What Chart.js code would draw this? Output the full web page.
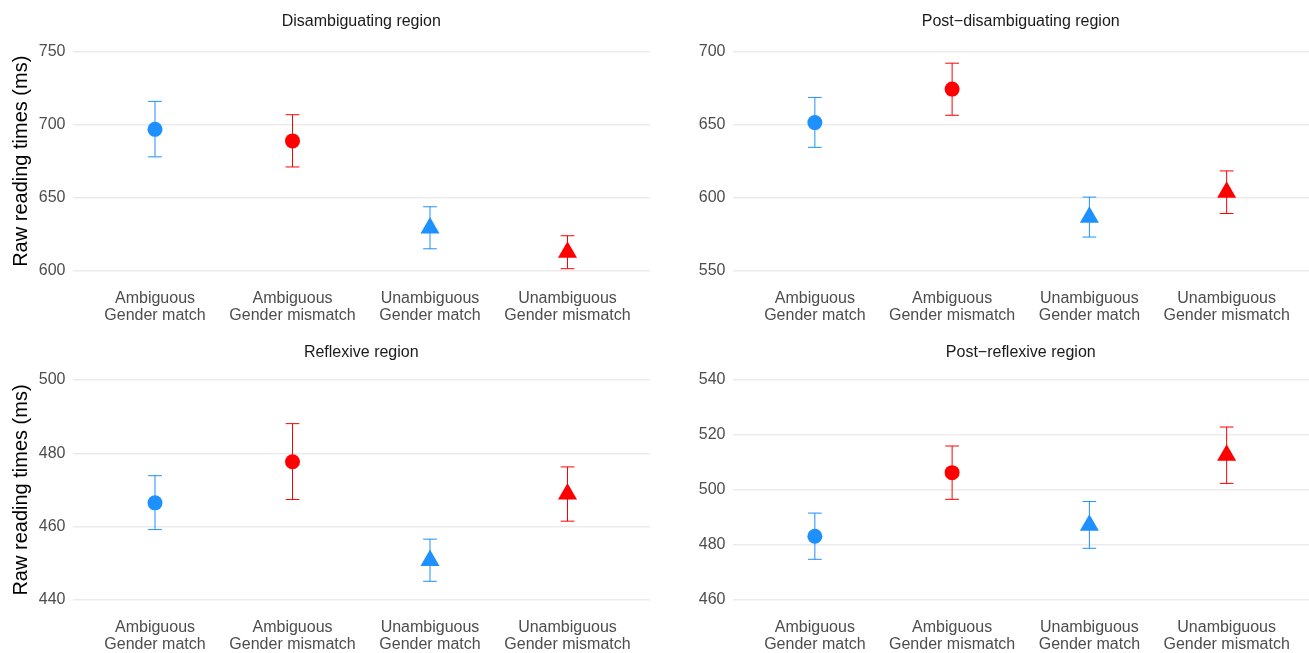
<!DOCTYPE html>
<html>
<head>
<meta charset="utf-8">
<script src="https://cdn.jsdelivr.net/npm/chart.js@4/dist/chart.umd.min.js"></script>
<style>
  html, body { margin: 0; padding: 0; background: #ffffff; }
  #wrap { position: relative; width: 1309px; height: 653px; overflow: hidden; }
  .panel { position: absolute; }
  .panel canvas { display: block; }
</style>
</head>
<body>
<div id="wrap">
  <div class="panel" style="left:0px;top:0px;"><canvas id="c0" width="655" height="327"></canvas></div>
  <div class="panel" style="left:655px;top:0px;"><canvas id="c1" width="654" height="327"></canvas></div>
  <div class="panel" style="left:0px;top:327px;"><canvas id="c2" width="655" height="326"></canvas></div>
  <div class="panel" style="left:655px;top:327px;"><canvas id="c3" width="654" height="326"></canvas></div>
</div>
<script>
// Conditions on the x axis (two-line labels)
const categories = [
  ["Ambiguous", "Gender match"],
  ["Ambiguous", "Gender mismatch"],
  ["Unambiguous", "Gender match"],
  ["Unambiguous", "Gender mismatch"]
];
const markerColors = ["#1E90FF", "#FF0000", "#1E90FF", "#FF0000"];
const markerShapes = ["circle", "circle", "triangle", "triangle"];

// Disambiguating region
const disambigMean = [696.8, 688.9, 629.4, 612.8];
const disambigLow  = [678.0, 671.1, 615.2, 601.6];
const disambigHigh = [715.9, 706.8, 643.9, 624.1];
const disambigTicks = [600, 650, 700, 750];

// Post-disambiguating region
const postDisambigMean = [651.4, 674.3, 586.7, 603.8];
const postDisambigLow  = [634.5, 656.4, 573.2, 589.3];
const postDisambigHigh = [668.6, 692.0, 600.5, 618.4];
const postDisambigTicks = [550, 600, 650, 700];

// Reflexive region
const reflexiveMean = [466.5, 477.7, 450.8, 468.9];
const reflexiveLow  = [459.2, 467.4, 445.1, 461.5];
const reflexiveHigh = [473.9, 488.1, 456.6, 476.3];
const reflexiveTicks = [440, 460, 480, 500];

// Post-reflexive region
const postReflexiveMean = [483.2, 506.3, 487.2, 512.6];
const postReflexiveLow  = [474.8, 496.6, 478.8, 502.4];
const postReflexiveHigh = [491.6, 516.0, 495.8, 522.9];
const postReflexiveTicks = [460, 480, 500, 520, 540];

const yTitle = "Raw reading times (ms)";

Chart.defaults.font.family = "'Liberation Sans', Arial, Helvetica, sans-serif";
Chart.defaults.animation = false;

// Vertical error bars with caps, drawn beneath the markers
const errorBarPlugin = {
  id: 'errorBars',
  beforeDatasetsDraw(chart, args, opts) {
    const { ctx, scales: { x, y } } = chart;
    ctx.save();
    ctx.lineWidth = 1;
    opts.low.forEach((lo, i) => {
      const hi = opts.high[i];
      const px = x.getPixelForValue(i);
      const half = Math.abs(x.getPixelForValue(i + opts.capWidth / 2) - px);
      const yLo = y.getPixelForValue(lo);
      const yHi = y.getPixelForValue(hi);
      ctx.strokeStyle = markerColors[i];
      ctx.beginPath();
      ctx.moveTo(px, yLo); ctx.lineTo(px, yHi);
      ctx.moveTo(px - half, yLo); ctx.lineTo(px + half, yLo);
      ctx.moveTo(px - half, yHi); ctx.lineTo(px + half, yHi);
      ctx.stroke();
    });
    ctx.restore();
  }
};

// Facet strip title centred over the plotting area
const stripTitlePlugin = {
  id: 'stripTitle',
  afterDraw(chart, args, opts) {
    const { ctx, chartArea } = chart;
    ctx.save();
    ctx.fillStyle = '#1A1A1A';
    ctx.font = "16px 'Liberation Sans', Arial, sans-serif";
    ctx.textAlign = 'center';
    ctx.textBaseline = 'middle';
    ctx.fillText(opts.text, (chartArea.left + chartArea.right) / 2, opts.y);
    ctx.restore();
  }
};

const panels = [
  { id: 'c0', title: "Disambiguating region", mean: disambigMean, low: disambigLow, high: disambigHigh,
    ticks: disambigTicks, showTitle: true, padTop: 40.5, padRight: 5, yWidth: 72.5, xHeight: 45, titleY: 22 },
  { id: 'c1', title: "Post\u2212disambiguating region", mean: postDisambigMean, low: postDisambigLow, high: postDisambigHigh,
    ticks: postDisambigTicks, showTitle: false, padTop: 40.5, padRight: 0, yWidth: 77.5, xHeight: 45, titleY: 22 },
  { id: 'c2', title: "Reflexive region", mean: reflexiveMean, low: reflexiveLow, high: reflexiveHigh,
    ticks: reflexiveTicks, showTitle: true, padTop: 42, padRight: 5, yWidth: 72.5, xHeight: 42, titleY: 26 },
  { id: 'c3', title: "Post\u2212reflexive region", mean: postReflexiveMean, low: postReflexiveLow, high: postReflexiveHigh,
    ticks: postReflexiveTicks, showTitle: false, padTop: 42, padRight: 0, yWidth: 77.5, xHeight: 42, titleY: 26 }
];

panels.forEach(p => {
  const t0 = p.ticks[0], t1 = p.ticks[p.ticks.length - 1];
  const pad = (t1 - t0) * 0.05;
  new Chart(document.getElementById(p.id), {
    type: 'scatter',
    data: {
      datasets: [{
        data: p.mean.map((m, i) => ({ x: i, y: m })),
        pointStyle: markerShapes,
        pointRadius: markerShapes.map(s => s === 'circle' ? 7.5 : 11),
        pointBackgroundColor: markerColors,
        pointBorderColor: markerColors,
        pointBorderWidth: 0,
        showLine: false,
        clip: false
      }]
    },
    options: {
      responsive: false,
      devicePixelRatio: 1,
      layout: { autoPadding: false, padding: { top: p.padTop, right: p.padRight, bottom: 0, left: 0 } },
      plugins: {
        legend: { display: false },
        tooltip: { enabled: false },
        errorBars: { low: p.low, high: p.high, capWidth: 0.1 },
        stripTitle: { text: p.title, y: p.titleY }
      },
      scales: {
        x: {
          type: 'linear',
          min: -0.6,
          max: 3.6,
          afterBuildTicks: s => { s.ticks = categories.map((c, i) => ({ value: i })); },
          afterFit: s => { s.height = p.xHeight; s.paddingLeft = 0; s.paddingRight = 0; },
          grid: { display: false },
          border: { display: false },
          ticks: {
            autoSkip: false,
            maxRotation: 0,
            padding: 0,
            color: '#4D4D4D',
            font: { size: 16, lineHeight: 1.06 },
            callback: (v, i) => categories[i]
          }
        },
        y: {
          type: 'linear',
          min: t0 - pad,
          max: t1 + pad,
          afterBuildTicks: s => { s.ticks = p.ticks.map(v => ({ value: v })); },
          afterFit: s => { s.width = p.yWidth; s.paddingTop = 0; s.paddingBottom = 0; },
          grid: { color: '#EBEBEB', lineWidth: 1.5, drawTicks: false },
          border: { display: false },
          ticks: { color: '#4D4D4D', padding: 7, font: { size: 16 } },
          title: {
            display: p.showTitle,
            text: yTitle,
            color: '#000000',
            font: { size: 20 },
            padding: { top: 9, bottom: 0 }
          }
        }
      }
    },
    plugins: [errorBarPlugin, stripTitlePlugin]
  });
});
</script>
</body>
</html>
